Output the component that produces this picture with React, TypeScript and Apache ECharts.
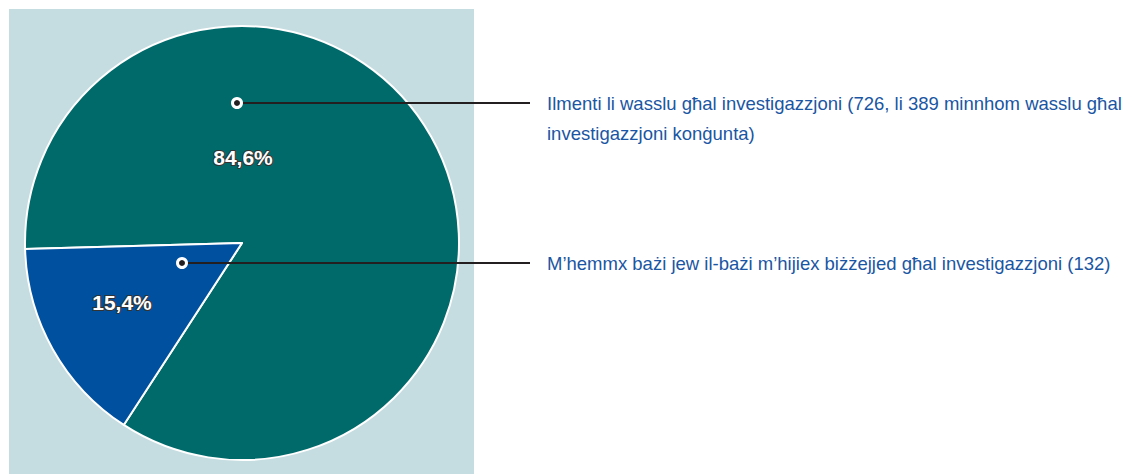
import React, { useEffect, useRef } from "react";
import * as echarts from "echarts";

const categories = [
  "Ilmenti li wasslu għal investigazzjoni (726, li 389 minnhom wasslu għal\ninvestigazzjoni konġunta)",
  "M’hemmx bażi jew il-bażi m’hijiex biżżejjed għal investigazzjoni (132)",
];
const values = [726, 132];
const percentLabels = ["84,6%", "15,4%"];
const colors = ["#006a6b", "#0050a0"];

const CX = 242;
const CY = 243;
const R = 217;
const markers = [
  [237, 103],
  [182, 263],
];
const pctPos = [
  [243, 157],
  [122, 302],
];
const TEXT_X = 547;
const LINE_END_X = 530;
const FONT = '"Liberation Sans", Arial, sans-serif';

export default function App() {
  const ref = useRef<HTMLDivElement>(null);
  useEffect(() => {
    document.body.style.margin = "0";
    const chart = echarts.init(ref.current!, undefined, { renderer: "svg" });
    const data = categories.map((name, i) => ({
      name,
      value: values[i],
      itemStyle: { color: colors[i] },
    }));
    chart.setOption({
      animation: false,
      backgroundColor: "#ffffff",
      graphic: [
        {
          type: "rect",
          z: -10,
          shape: { x: 9, y: 9, width: 465, height: 470 },
          style: { fill: "#c5dce0" },
          silent: true,
        },
        ...markers.map(([mx, my]) => ({
          type: "circle",
          z: 100,
          shape: { cx: mx, cy: my, r: 4.5 },
          style: { fill: "#231f20", stroke: "#ffffff", lineWidth: 3 },
          silent: true,
        })),
      ],
      series: [
        {
          type: "pie",
          center: [CX, CY],
          radius: [0, R],
          startAngle: 181.6,
          clockwise: true,
          z: 2,
          itemStyle: { borderColor: "#ffffff", borderWidth: 2 },
          label: {
            show: true,
            position: "inside",
            formatter: (p: any) => percentLabels[p.dataIndex],
            color: "#ffffff",
            fontFamily: FONT,
            fontWeight: "bold",
            fontSize: 21,
            textBorderColor: "#333333",
            textBorderWidth: 2,
          },
          labelLayout: (p: any) => ({
            x: pctPos[p.dataIndex][0],
            y: pctPos[p.dataIndex][1],
            align: "center",
            verticalAlign: "middle",
          }),
          emphasis: { disabled: true },
          data,
        },
        {
          type: "pie",
          center: [CX, CY],
          radius: [0, R],
          startAngle: 181.6,
          clockwise: true,
          silent: true,
          z: 3,
          itemStyle: { color: "rgba(0,0,0,0)", borderWidth: 0 },
          label: {
            show: true,
            position: "outside",
            formatter: (p: any) => p.name,
            color: "#1a56a3",
            fontFamily: FONT,
            fontSize: 18.5,
            lineHeight: 30,
            overflow: "none",
          },
          labelLine: {
            show: true,
            lineStyle: { color: "#231f20", width: 2 },
          },
          labelLayout: (p: any) => {
            const [mx, my] = markers[p.dataIndex];
            return {
              x: TEXT_X,
              y: my - 15,
              align: "left",
              verticalAlign: "top",
              labelLinePoints: [
                [mx, my],
                [LINE_END_X, my],
                [LINE_END_X, my],
              ],
            };
          },
          emphasis: { disabled: true },
          data: categories.map((name, i) => ({ name, value: values[i] })),
        },
      ],
    });
    return () => chart.dispose();
  }, []);
  return <div ref={ref} style={{ width: 1141, height: 474 }} />;
}
